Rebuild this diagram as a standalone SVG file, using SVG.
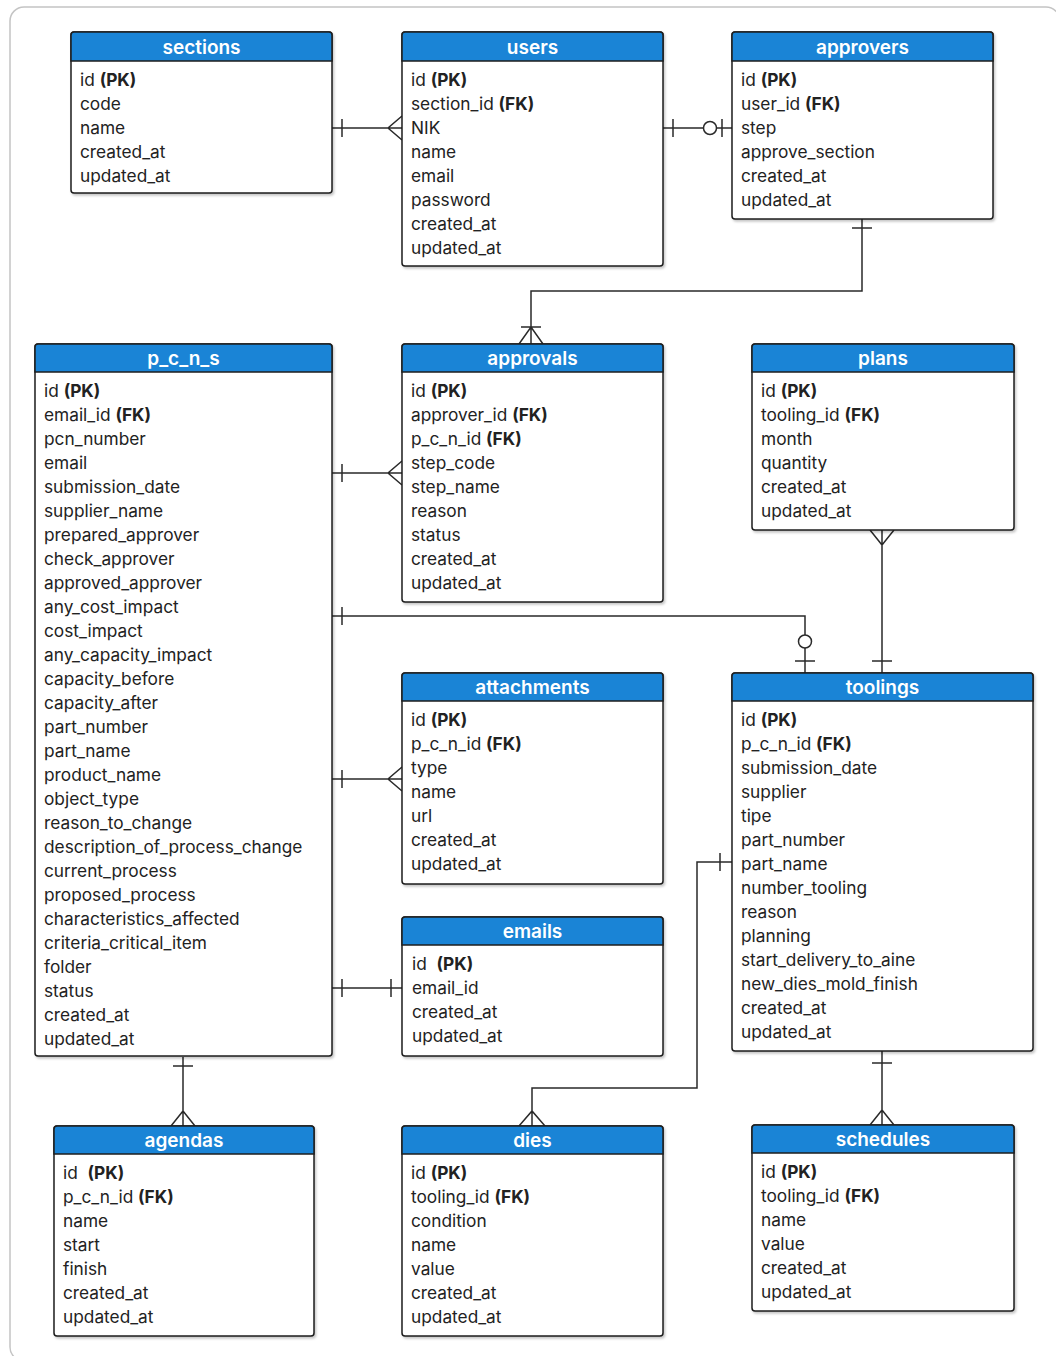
<svg xmlns="http://www.w3.org/2000/svg" width="1056" height="1356" viewBox="0 0 1056 1356">
  <defs>
    <filter id="shadow" x="-5%" y="-5%" width="110%" height="110%">
      <feDropShadow dx="1.5" dy="2" stdDeviation="1.2" flood-color="#000" flood-opacity="0.22"/>
    </filter>
    <style>
      .frame { fill: #fff; stroke: #c4c4c4; stroke-width: 1.5; }
      .box { fill: #fff; stroke: #1e1e1e; stroke-width: 1.5; filter: url(#shadow); }
      .head { fill: #1a84d6; stroke: #1e1e1e; stroke-width: 1.5; }
      .title { font-family: Inter, "Liberation Sans", sans-serif; font-size: 19px; font-weight: 600; fill: #fff; text-anchor: middle; }
      .row { font-family: Inter, "Liberation Sans", sans-serif; font-size: 17.3px; fill: #222; white-space: pre; }
      .row tspan.k { font-weight: 700; }
      .conn { fill: none; stroke: #2a2a2a; stroke-width: 1.5; }
      .ring { fill: #fff; stroke: #2a2a2a; stroke-width: 1.5; }
    </style>
  </defs>

  <rect class="frame" x="10" y="7" width="1050" height="1354" rx="14"/>

  <!-- connectors -->
  <g id="connectors">
    <!-- sections 1 : N users -->
    <path class="conn" d="M332 128 H402 M342 119 V137 M402 116 L388 128 L402 140"/>
    <!-- users 1 : 0..1 approvers -->
    <path class="conn" d="M663 128 H703 M717 128 H732 M673 119 V137 M722 119 V137"/>
    <circle class="ring" cx="710" cy="128" r="6.5"/>
    <!-- approvers 1 : 1..N approvals -->
    <path class="conn" d="M862 219 V291 H531 V344 M852 228 H872 M521 327 H541 M519 344 L531 327 L543 344"/>
    <!-- p_c_n_s 1 : N approvals -->
    <path class="conn" d="M332 473 H402 M342 464 V482 M402 461 L388 473 L402 485"/>
    <!-- p_c_n_s 1 : 0..1 toolings -->
    <path class="conn" d="M332 616 H805 V635 M805 648 V673 M342 607 V625 M795 661 H815"/>
    <circle class="ring" cx="805" cy="641.5" r="6.5"/>
    <!-- plans N : 1 toolings -->
    <path class="conn" d="M882 530 V673 M870 530 L882 545 L894 530 M872 661 H892"/>
    <!-- p_c_n_s 1 : N attachments -->
    <path class="conn" d="M332 779 H402 M342 770 V788 M402 767 L388 779 L402 791"/>
    <!-- p_c_n_s 1 : 1 emails -->
    <path class="conn" d="M332 988 H402 M342 979 V997 M391 979 V997"/>
    <!-- toolings 1 : N dies -->
    <path class="conn" d="M732 862 H697 V1088 H532 V1126 M720 853 V871 M519 1126 L532 1111 L545 1126"/>
    <!-- p_c_n_s 1 : N agendas -->
    <path class="conn" d="M183 1057 V1126 M173 1066 H193 M171 1126 L183 1111 L195 1126"/>
    <!-- toolings 1 : N schedules -->
    <path class="conn" d="M882 1050 V1125 M872 1063 H892 M870 1125 L882 1110 L894 1125"/>
  </g>

  <!-- sections -->
  <g id="sections">
    <rect class="box" x="71" y="32" width="261" height="161" rx="3"/>
    <path class="head" d="M74 32 H329 A3 3 0 0 1 332 35 V61 H71 V35 A3 3 0 0 1 74 32 Z"/>
    <text class="title" x="201.5" y="54">sections</text>
    <text class="row" x="80" y="86">id <tspan class="k">(PK)</tspan></text>
    <text class="row" x="80" y="110">code</text>
    <text class="row" x="80" y="134">name</text>
    <text class="row" x="80" y="158">created_at</text>
    <text class="row" x="80" y="182">updated_at</text>
  </g>

  <!-- users -->
  <g id="users">
    <rect class="box" x="402" y="32" width="261" height="234" rx="3"/>
    <path class="head" d="M405 32 H660 A3 3 0 0 1 663 35 V61 H402 V35 A3 3 0 0 1 405 32 Z"/>
    <text class="title" x="532.5" y="54">users</text>
    <text class="row" x="411" y="86">id <tspan class="k">(PK)</tspan></text>
    <text class="row" x="411" y="110">section_id <tspan class="k">(FK)</tspan></text>
    <text class="row" x="411" y="134">NIK</text>
    <text class="row" x="411" y="158">name</text>
    <text class="row" x="411" y="182">email</text>
    <text class="row" x="411" y="206">password</text>
    <text class="row" x="411" y="230">created_at</text>
    <text class="row" x="411" y="254">updated_at</text>
  </g>

  <!-- approvers -->
  <g id="approvers">
    <rect class="box" x="732" y="32" width="261" height="187" rx="3"/>
    <path class="head" d="M735 32 H990 A3 3 0 0 1 993 35 V61 H732 V35 A3 3 0 0 1 735 32 Z"/>
    <text class="title" x="862.5" y="54">approvers</text>
    <text class="row" x="741" y="86">id <tspan class="k">(PK)</tspan></text>
    <text class="row" x="741" y="110">user_id <tspan class="k">(FK)</tspan></text>
    <text class="row" x="741" y="134">step</text>
    <text class="row" x="741" y="158">approve_section</text>
    <text class="row" x="741" y="182">created_at</text>
    <text class="row" x="741" y="206">updated_at</text>
  </g>

  <!-- p_c_n_s -->
  <g id="p_c_n_s">
    <rect class="box" x="35" y="344" width="297" height="712" rx="3"/>
    <path class="head" d="M38 344 H329 A3 3 0 0 1 332 347 V372 H35 V347 A3 3 0 0 1 38 344 Z"/>
    <text class="title" x="183.5" y="365">p_c_n_s</text>
    <text class="row" x="44" y="397">id <tspan class="k">(PK)</tspan></text>
    <text class="row" x="44" y="421">email_id <tspan class="k">(FK)</tspan></text>
    <text class="row" x="44" y="445">pcn_number</text>
    <text class="row" x="44" y="469">email</text>
    <text class="row" x="44" y="493">submission_date</text>
    <text class="row" x="44" y="517">supplier_name</text>
    <text class="row" x="44" y="541">prepared_approver</text>
    <text class="row" x="44" y="565">check_approver</text>
    <text class="row" x="44" y="589">approved_approver</text>
    <text class="row" x="44" y="613">any_cost_impact</text>
    <text class="row" x="44" y="637">cost_impact</text>
    <text class="row" x="44" y="661">any_capacity_impact</text>
    <text class="row" x="44" y="685">capacity_before</text>
    <text class="row" x="44" y="709">capacity_after</text>
    <text class="row" x="44" y="733">part_number</text>
    <text class="row" x="44" y="757">part_name</text>
    <text class="row" x="44" y="781">product_name</text>
    <text class="row" x="44" y="805">object_type</text>
    <text class="row" x="44" y="829">reason_to_change</text>
    <text class="row" x="44" y="853">description_of_process_change</text>
    <text class="row" x="44" y="877">current_process</text>
    <text class="row" x="44" y="901">proposed_process</text>
    <text class="row" x="44" y="925">characteristics_affected</text>
    <text class="row" x="44" y="949">criteria_critical_item</text>
    <text class="row" x="44" y="973">folder</text>
    <text class="row" x="44" y="997">status</text>
    <text class="row" x="44" y="1021">created_at</text>
    <text class="row" x="44" y="1045">updated_at</text>
  </g>

  <!-- approvals -->
  <g id="approvals">
    <rect class="box" x="402" y="344" width="261" height="258" rx="3"/>
    <path class="head" d="M405 344 H660 A3 3 0 0 1 663 347 V372 H402 V347 A3 3 0 0 1 405 344 Z"/>
    <text class="title" x="532.5" y="365">approvals</text>
    <text class="row" x="411" y="397">id <tspan class="k">(PK)</tspan></text>
    <text class="row" x="411" y="421">approver_id <tspan class="k">(FK)</tspan></text>
    <text class="row" x="411" y="445">p_c_n_id <tspan class="k">(FK)</tspan></text>
    <text class="row" x="411" y="469">step_code</text>
    <text class="row" x="411" y="493">step_name</text>
    <text class="row" x="411" y="517">reason</text>
    <text class="row" x="411" y="541">status</text>
    <text class="row" x="411" y="565">created_at</text>
    <text class="row" x="411" y="589">updated_at</text>
  </g>

  <!-- plans -->
  <g id="plans">
    <rect class="box" x="752" y="344" width="262" height="186" rx="3"/>
    <path class="head" d="M755 344 H1011 A3 3 0 0 1 1014 347 V372 H752 V347 A3 3 0 0 1 755 344 Z"/>
    <text class="title" x="883" y="365">plans</text>
    <text class="row" x="761" y="397">id <tspan class="k">(PK)</tspan></text>
    <text class="row" x="761" y="421">tooling_id <tspan class="k">(FK)</tspan></text>
    <text class="row" x="761" y="445">month</text>
    <text class="row" x="761" y="469">quantity</text>
    <text class="row" x="761" y="493">created_at</text>
    <text class="row" x="761" y="517">updated_at</text>
  </g>

  <!-- attachments -->
  <g id="attachments">
    <rect class="box" x="402" y="673" width="261" height="211" rx="3"/>
    <path class="head" d="M405 673 H660 A3 3 0 0 1 663 676 V701 H402 V676 A3 3 0 0 1 405 673 Z"/>
    <text class="title" x="532.5" y="694">attachments</text>
    <text class="row" x="411" y="726">id <tspan class="k">(PK)</tspan></text>
    <text class="row" x="411" y="750">p_c_n_id <tspan class="k">(FK)</tspan></text>
    <text class="row" x="411" y="774">type</text>
    <text class="row" x="411" y="798">name</text>
    <text class="row" x="411" y="822">url</text>
    <text class="row" x="411" y="846">created_at</text>
    <text class="row" x="411" y="870">updated_at</text>
  </g>

  <!-- toolings -->
  <g id="toolings">
    <rect class="box" x="732" y="673" width="301" height="378" rx="3"/>
    <path class="head" d="M735 673 H1030 A3 3 0 0 1 1033 676 V701 H732 V676 A3 3 0 0 1 735 673 Z"/>
    <text class="title" x="882.5" y="694">toolings</text>
    <text class="row" x="741" y="726">id <tspan class="k">(PK)</tspan></text>
    <text class="row" x="741" y="750">p_c_n_id <tspan class="k">(FK)</tspan></text>
    <text class="row" x="741" y="774">submission_date</text>
    <text class="row" x="741" y="798">supplier</text>
    <text class="row" x="741" y="822">tipe</text>
    <text class="row" x="741" y="846">part_number</text>
    <text class="row" x="741" y="870">part_name</text>
    <text class="row" x="741" y="894">number_tooling</text>
    <text class="row" x="741" y="918">reason</text>
    <text class="row" x="741" y="942">planning</text>
    <text class="row" x="741" y="966">start_delivery_to_aine</text>
    <text class="row" x="741" y="990">new_dies_mold_finish</text>
    <text class="row" x="741" y="1014">created_at</text>
    <text class="row" x="741" y="1038">updated_at</text>
  </g>

  <!-- emails -->
  <g id="emails">
    <rect class="box" x="402" y="917" width="261" height="139" rx="3"/>
    <path class="head" d="M405 917 H660 A3 3 0 0 1 663 920 V945 H402 V920 A3 3 0 0 1 405 917 Z"/>
    <text class="title" x="532.5" y="938">emails</text>
    <text class="row" x="412" y="970">id  <tspan class="k">(PK)</tspan></text>
    <text class="row" x="412" y="994">email_id</text>
    <text class="row" x="412" y="1018">created_at</text>
    <text class="row" x="412" y="1042">updated_at</text>
  </g>

  <!-- agendas -->
  <g id="agendas">
    <rect class="box" x="54" y="1126" width="260" height="210" rx="3"/>
    <path class="head" d="M57 1126 H311 A3 3 0 0 1 314 1129 V1154 H54 V1129 A3 3 0 0 1 57 1126 Z"/>
    <text class="title" x="184" y="1147">agendas</text>
    <text class="row" x="63" y="1179">id  <tspan class="k">(PK)</tspan></text>
    <text class="row" x="63" y="1203">p_c_n_id <tspan class="k">(FK)</tspan></text>
    <text class="row" x="63" y="1227">name</text>
    <text class="row" x="63" y="1251">start</text>
    <text class="row" x="63" y="1275">finish</text>
    <text class="row" x="63" y="1299">created_at</text>
    <text class="row" x="63" y="1323">updated_at</text>
  </g>

  <!-- dies -->
  <g id="dies">
    <rect class="box" x="402" y="1126" width="261" height="210" rx="3"/>
    <path class="head" d="M405 1126 H660 A3 3 0 0 1 663 1129 V1154 H402 V1129 A3 3 0 0 1 405 1126 Z"/>
    <text class="title" x="532.5" y="1147">dies</text>
    <text class="row" x="411" y="1179">id <tspan class="k">(PK)</tspan></text>
    <text class="row" x="411" y="1203">tooling_id <tspan class="k">(FK)</tspan></text>
    <text class="row" x="411" y="1227">condition</text>
    <text class="row" x="411" y="1251">name</text>
    <text class="row" x="411" y="1275">value</text>
    <text class="row" x="411" y="1299">created_at</text>
    <text class="row" x="411" y="1323">updated_at</text>
  </g>

  <!-- schedules -->
  <g id="schedules">
    <rect class="box" x="752" y="1125" width="262" height="186" rx="3"/>
    <path class="head" d="M755 1125 H1011 A3 3 0 0 1 1014 1128 V1153 H752 V1128 A3 3 0 0 1 755 1125 Z"/>
    <text class="title" x="883" y="1146">schedules</text>
    <text class="row" x="761" y="1178">id <tspan class="k">(PK)</tspan></text>
    <text class="row" x="761" y="1202">tooling_id <tspan class="k">(FK)</tspan></text>
    <text class="row" x="761" y="1226">name</text>
    <text class="row" x="761" y="1250">value</text>
    <text class="row" x="761" y="1274">created_at</text>
    <text class="row" x="761" y="1298">updated_at</text>
  </g>
</svg>
